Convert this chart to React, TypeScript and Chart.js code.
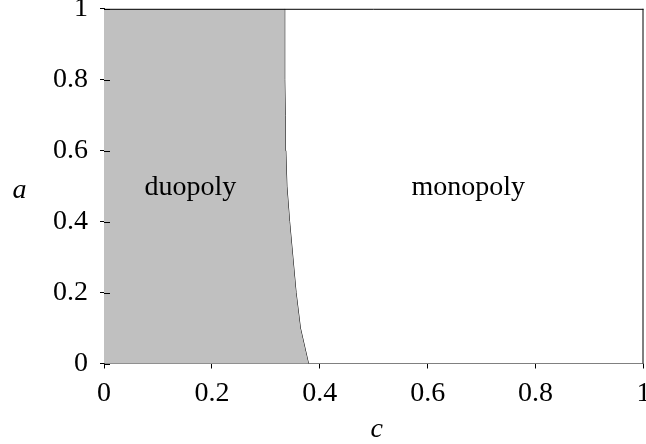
import { useEffect, useRef } from 'react';
import { Chart, registerables } from 'chart.js';

Chart.register(...registerables);

// Boundary curve between duopoly (left) and monopoly (right): c as a function of a
const curveA = [0, 0.1, 0.2, 0.3, 0.4, 0.5, 0.6, 0.7, 0.8, 0.9, 1];
const curveC = [0.379, 0.364, 0.356, 0.35, 0.344, 0.339, 0.337, 0.336, 0.335, 0.335, 0.335];

const xTickLabels = ['0', '0.2', '0.4', '0.6', '0.8', '1'];
const yTickLabels = ['0', '0.2', '0.4', '0.6', '0.8', '1'];

const regionLabels = ['duopoly', 'monopoly'];
const regionLabelC = [0.16, 0.675];
const regionLabelA = [0.475, 0.475];

const xTitle = 'c';
const yTitle = 'a';

const W = 680;
const H = 484;
const OFF = 20;
const FONT = "'Liberation Serif', 'Times New Roman', serif";

export default function App() {
  const ref = useRef<HTMLCanvasElement | null>(null);

  useEffect(() => {
    const curvePts = curveA.map((a, i) => ({ x: curveC[i], y: a }));
    const regionPts = [{ x: 0, y: 0 }, ...curvePts, { x: 0, y: 1 }];

    const framePlugin = {
      id: 'framePlugin',
      afterDatasetsDraw(chart: any) {
        const ctx = chart.ctx;
        const { left, right, top, bottom } = chart.chartArea;
        const xs = chart.scales.x;
        const ys = chart.scales.y;
        ctx.save();
        // top & right frame
        ctx.strokeStyle = '#000';
        ctx.lineWidth = 1;
        ctx.beginPath();
        ctx.moveTo(left, top + 0.5);
        ctx.lineTo(right, top + 0.5);
        ctx.moveTo(right - 0.5, top);
        ctx.lineTo(right - 0.5, bottom);
        ctx.stroke();
        // inner part of y tick marks
        ctx.beginPath();
        for (let i = 0; i < yTickLabels.length; i++) {
          const py = Math.round(ys.getPixelForValue(parseFloat(yTickLabels[i]))) + 0.5;
          ctx.moveTo(left, py);
          ctx.lineTo(left + 6, py);
        }
        ctx.stroke();
        // region labels
        ctx.fillStyle = '#000';
        ctx.font = `28px ${FONT}`;
        ctx.textAlign = 'center';
        ctx.textBaseline = 'alphabetic';
        for (let i = 0; i < regionLabels.length; i++) {
          ctx.fillText(regionLabels[i], xs.getPixelForValue(regionLabelC[i]), ys.getPixelForValue(regionLabelA[i]));
        }
        // axis titles
        ctx.font = `italic 28px ${FONT}`;
        ctx.fillText(yTitle, left - 84.5, bottom - 166);
        ctx.fillText(xTitle, (left + right) / 2 + 3, bottom + 73);
        ctx.restore();
      },
    };

    const chart = new Chart(ref.current as HTMLCanvasElement, {
      type: 'scatter',
      data: {
        datasets: [
          {
            data: regionPts,
            showLine: true,
            fill: 'shape',
            backgroundColor: '#c0c0c0',
            borderWidth: 0,
            borderColor: 'rgba(0,0,0,0)',
            pointRadius: 0,
          } as any,
          {
            data: curvePts,
            showLine: true,
            fill: false,
            borderColor: '#000',
            borderWidth: 1,
            pointRadius: 0,
          },
        ],
      },
      options: {
        responsive: false,
        animation: false,
        layout: { padding: { top: 27.5, right: 36.5, bottom: 20, left: 0 } },
        plugins: { legend: { display: false }, tooltip: { enabled: false } },
        scales: {
          x: {
            type: 'linear',
            min: 0,
            max: 1,
            ticks: {
              stepSize: 0.2,
              color: '#000',
              font: { family: FONT, size: 28 },
              padding: 8,
              maxRotation: 0,
              callback: (_v: any, i: number) => xTickLabels[i],
            },
            grid: { drawOnChartArea: false, tickLength: 5, color: '#000' },
            border: { color: '#808080', width: 1 },
            afterFit: (s: any) => {
              s.height = 80.5;
            },
          },
          y: {
            type: 'linear',
            min: 0,
            max: 1,
            ticks: {
              stepSize: 0.2,
              color: '#000',
              font: { family: FONT, size: 28 },
              padding: 12,
              callback: (_v: any, i: number) => yTickLabels[i],
            },
            grid: { drawOnChartArea: false, tickLength: 4, color: '#000' },
            border: { color: '#000', width: 1 },
            afterFit: (s: any) => {
              s.width = 104;
            },
          },
        },
      },
      plugins: [framePlugin],
    });
    return () => chart.destroy();
  }, []);

  return (
    <div style={{ position: 'fixed', left: 0, top: 0, width: 646, height: 444, overflow: 'hidden', background: '#fff' }}>
      <canvas ref={ref} width={W} height={H} style={{ position: 'absolute', left: 0, top: -OFF, width: W, height: H }} />
    </div>
  );
}
